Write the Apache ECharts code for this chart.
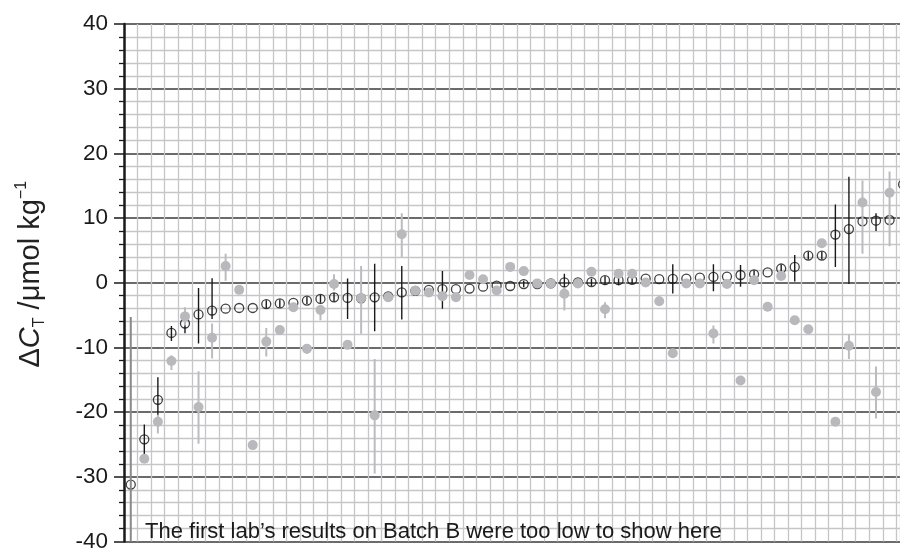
<!DOCTYPE html>
<html>
<head>
<meta charset="utf-8">
<script src="https://cdn.jsdelivr.net/npm/echarts@6/dist/echarts.min.js"></script>
<style>
html, body {margin: 0; padding: 0; background: #fff;}
#chart {width: 900px; height: 553px;}
</style>
</head>
<body>
<div id="chart"></div>
<script>
// one entry per lab, in the order they are plotted (null = nothing drawn)
var batchA = [-31.2, -24.2, -18.1, -7.75, -6.3, -4.9, -4.3, -4.0, -3.9, -3.9,
  -3.3, -3.2, -3.1, -2.75, -2.5, -2.25, -2.35, -2.4, -2.25, -2.1,
  -1.5, -1.25, -1.1, -1.0, -1.0, -0.9, -0.6, -0.45, -0.5, -0.2,
  -0.2, -0.1, 0.05, 0.05, 0.1, 0.4, 0.4, 0.45, 0.65, 0.55,
  0.6, 0.65, 0.8, 0.9, 0.95, 1.2, 1.3, 1.6, 2.2, 2.45,
  4.2, 4.2, 7.45, 8.3, 9.5, 9.6, 9.7, 15.2];
var batchALow = [null, -26.5, -20.5, -9.0, -7.8, -9.4, -5.6, null, null, null,
  -3.9, -3.8, null, -3.3, -3.1, -2.9, -5.6, null, -7.5, null,
  -5.7, null, null, -4.0, null, null, null, null, null, -0.7,
  null, null, -1.2, null, -0.5, -0.3, -0.4, -0.2, null, null,
  -1.65, null, null, -1.3, null, -0.6, 0.7, null, 1.7, 0.2,
  3.6, 3.6, 2.45, -0.2, null, 8.0, null, null];
var batchAHigh = [null, -21.9, -14.6, -6.7, -5.6, -0.8, 0.7, null, null, null,
  -2.7, -2.6, null, -2.2, -1.9, -1.6, 0.65, null, 2.95, null,
  2.6, null, null, 1.8, null, null, null, null, null, 0.3,
  null, null, 1.4, null, 0.6, 1.0, 1.0, 1.0, null, null,
  2.85, null, null, 2.85, null, 2.75, 1.9, null, 2.8, 4.3,
  4.8, 4.8, 12.1, 16.4, null, 10.75, null, null];

var batchB = [null, -27.2, -21.5, -12.1, -5.2, -19.2, -8.5, 2.6, -1.1, -25.1,
  -9.1, -7.3, -3.8, -10.2, -4.2, -0.2, -9.6, -2.4, -20.5, -2.25,
  7.5, -1.25, -1.5, -2.1, -2.25, 1.2, 0.55, -1.2, 2.45, 1.8,
  -0.1, -0.1, -1.7, -0.1, 1.7, -4.1, 1.4, 1.4, 0.05, -2.85,
  -10.9, -0.1, -0.1, -7.85, -0.2, -15.1, 0.4, -3.7, 1.05, -5.8,
  -7.2, 6.1, -21.5, -9.75, 12.4, -16.9, 13.9, null];
var batchBLow = [-45, null, -23.3, -13.5, -6.6, -24.9, -11.7, 0.3, null, null,
  -11.4, null, null, -11.0, -5.8, -1.2, null, -7.9, -29.5, null,
  4.0, null, null, null, null, null, null, null, null, null,
  null, null, -4.3, null, null, -5.5, null, null, null, -3.6,
  null, null, null, -9.4, null, null, null, null, null, null,
  null, null, null, -11.8, 4.5, -21.0, 5.65, null];
var batchBHigh = [-5.3, null, -20.4, -11.2, -3.8, -13.7, -6.3, 4.5, null, null,
  -7.0, null, null, -9.5, -3.4, 1.3, null, 2.6, -11.8, null,
  10.75, null, null, null, null, null, null, null, null, null,
  null, null, -0.7, null, null, -3.0, null, null, null, -2.1,
  null, null, null, -6.6, null, null, null, null, null, null,
  null, null, null, -7.95, 15.8, -12.95, 17.2, null];

var yMin = -40, yMax = 40, yStep = 10;
var note = 'The first lab\u2019s results on Batch B were too low to show here';

// the plot runs off the right edge of the picture: one lab per 13.55 px cell
var cellPx = 13.55, plotLeft = 124;
var xMax = (900 - plotLeft) / cellPx;

function points(vals) {
  var out = [];
  for (var i = 0; i < vals.length; i++) {
    if (vals[i] != null) out.push([i + 0.5, vals[i]]);
  }
  return out;
}
function bars(low, high, vals) {
  var out = [];
  for (var i = 0; i < low.length; i++) {
    if (low[i] == null) continue;
    out.push([i + 0.5, low[i], high[i], vals[i] == null ? 1 : 0]);
  }
  return out;
}
function drawBar(color, width, offColor) {
  return function (params, api) {
    var a = api.coord([api.value(0), api.value(1)]);
    var b = api.coord([api.value(0), api.value(2)]);
    return {
      type: 'line',
      shape: {x1: a[0], y1: a[1], x2: b[0], y2: b[1]},
      style: {stroke: api.value(3) ? offColor : color, lineWidth: width}
    };
  };
}

var font = 'Liberation Sans, Arial, sans-serif';
var myChart = echarts.init(document.getElementById('chart'));
var option = {
  animation: false,
  grid: {left: plotLeft, top: 24, right: 0, height: 523},
  xAxis: {
    type: 'value', min: 0, max: xMax, interval: 1,
    axisLine: {show: false}, axisTick: {show: false}, axisLabel: {show: false},
    splitLine: {show: true, lineStyle: {color: '#c6c6c8', width: 1.3}}
  },
  yAxis: {
    type: 'value', min: yMin, max: yMax, interval: yStep,
    name: '{a|\u0394}{i|C}{s|T}{a| /\u03bcmol kg}{p|\u22121}',
    nameLocation: 'middle', nameRotate: 90, nameGap: 76,
    nameTextStyle: {
      padding: [0, 0, 0, 17],
      rich: {
        a: {fontSize: 29, fontFamily: font, color: '#222', lineHeight: 34},
        i: {fontSize: 29, fontFamily: font, color: '#222', fontStyle: 'italic', lineHeight: 34},
        s: {fontSize: 16, fontFamily: font, color: '#222', verticalAlign: 'bottom', lineHeight: 24},
        p: {fontSize: 16, fontFamily: font, color: '#222', verticalAlign: 'top', lineHeight: 19}
      }
    },
    axisLine: {show: true, lineStyle: {color: '#1a1a1a', width: 2.5}},
    axisTick: {show: true, inside: false, length: 10, lineStyle: {color: '#1a1a1a', width: 1.5}},
    minorTick: {show: true, splitNumber: 5, length: 5, lineStyle: {color: '#1a1a1a', width: 1.3}},
    axisLabel: {fontSize: 22.5, fontFamily: font, color: '#1a1a1a', margin: 16},
    splitLine: {show: true, lineStyle: {color: '#3a3a3a', width: 1.6}},
    minorSplitLine: {show: true, lineStyle: {color: '#c6c6c8', width: 1.3}}
  },
  graphic: [{
    type: 'text', left: 145, top: 521, z: 10,
    style: {text: note, fontSize: 22, fontFamily: font, fill: '#1a1a1a'}
  }],
  series: [
    {
      type: 'custom', z: 2, clip: true,
      data: bars(batchALow, batchAHigh, batchA),
      encode: {x: 0, y: [1, 2]},
      renderItem: drawBar('#1a1a1a', 1.4, '#1a1a1a')
    },
    {
      type: 'scatter', z: 3, clip: false,
      data: points(batchA),
      symbol: 'circle', symbolSize: 9,
      itemStyle: {color: 'rgba(0,0,0,0)', borderColor: '#111', borderWidth: 1.3}
    },
    {
      type: 'custom', z: 4, clip: true,
      data: bars(batchBLow, batchBHigh, batchB),
      encode: {x: 0, y: [1, 2]},
      renderItem: drawBar('#bcbcc0', 2, '#8a8a8c')
    },
    {
      type: 'scatter', z: 5,
      data: points(batchB),
      symbol: 'circle', symbolSize: 10,
      itemStyle: {color: '#b9b9bd', opacity: 1}
    }
  ]
};
myChart.setOption(option);
</script>
</body>
</html>
